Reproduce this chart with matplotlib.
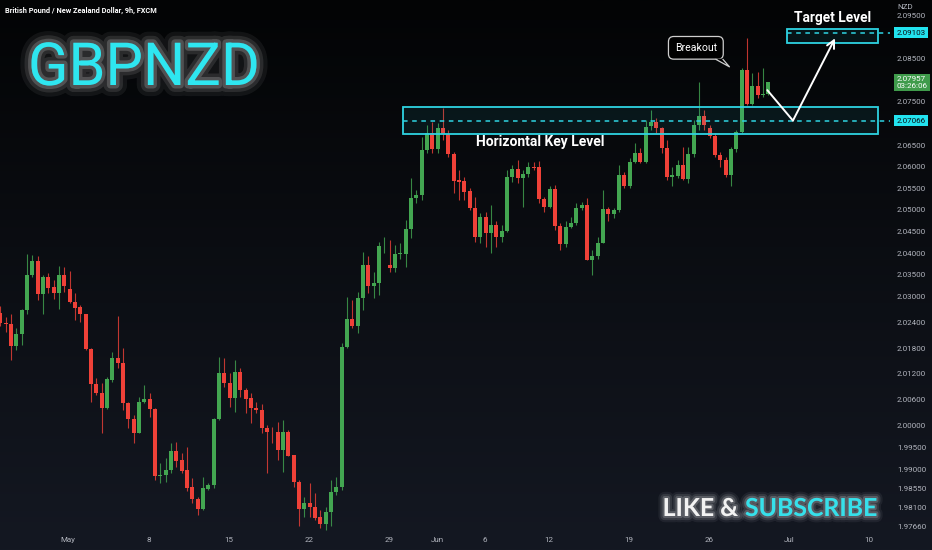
import numpy as np
import matplotlib
matplotlib.use("Agg")
import matplotlib.pyplot as plt
import matplotlib.patheffects as pe
from matplotlib.colors import LinearSegmentedColormap
from matplotlib.patches import Rectangle, Polygon
from matplotlib.transforms import blended_transform_factory

plt.rcParams['font.family'] = ['Roboto', 'DejaVu Sans']

# ---- GBPNZD 9h candles ----
opens = [2.0262, 2.0239, 2.0236, 2.0185, 2.0212, 2.0268, 2.0348, 2.0381, 2.0304, 2.0345,
         2.0321, 2.0308, 2.0348, 2.0316, 2.0287, 2.0274, 2.0259, 2.0177, 2.0097, 2.0075,
         2.0041, 2.0106, 2.0157, 2.0145, 2.0052, 2.0015, 1.9984, 2.0055, 2.0061, 2.0039,
         1.9884, 1.9886, 1.9898, 1.9941, 1.9921, 1.9898, 1.9858, 1.9831, 1.9807, 1.9854,
         1.9862, 2.0015, 2.0123, 2.0098, 2.0064, 2.0125, 2.0083, 2.0064, 2.0042, 2.0037,
         1.9996, 1.9986, 1.9985, 1.9944, 1.9985, 1.9932, 1.9871, 1.9807, 1.9821, 1.9813,
         1.9788, 1.9773, 1.9801, 1.9847, 1.9859, 2.0183, 2.0247, 2.0231, 2.0296, 2.0372,
         2.0324, 2.0330, 2.0418, 2.0372, 2.0365, 2.0397, 2.0398, 2.0455, 2.0527, 2.0534,
         2.0639, 2.0677, 2.0640, 2.0689, 2.0675, 2.0629, 2.0569, 2.0567, 2.0544, 2.0504,
         2.0438, 2.0484, 2.0447, 2.0465, 2.0438, 2.0452, 2.0575, 2.0595, 2.0573, 2.0583,
         2.0600, 2.0598, 2.0524, 2.0507, 2.0548, 2.0463, 2.0421, 2.0461, 2.0470, 2.0504,
         2.0511, 2.0385, 2.0393, 2.0424, 2.0501, 2.0490, 2.0500, 2.0581, 2.0555, 2.0611,
         2.0632, 2.0611, 2.0694, 2.0704, 2.0689, 2.0642, 2.0577, 2.0578, 2.0603, 2.0571,
         2.0629, 2.0696, 2.0717, 2.0689, 2.0671, 2.0627, 2.0615, 2.0581, 2.0640, 2.0679,
         2.0824, 2.0745, 2.0787, 2.0765, 2.0768]
highs = [2.0277, 2.0253, 2.0260, 2.0226, 2.0270, 2.0398, 2.0395, 2.0392, 2.0349, 2.0354,
         2.0337, 2.0370, 2.0368, 2.0359, 2.0307, 2.0280, 2.0260, 2.0179, 2.0110, 2.0098,
         2.0114, 2.0172, 2.0254, 2.0179, 2.0056, 2.0025, 2.0067, 2.0095, 2.0075, 2.0041,
         1.9913, 1.9925, 1.9960, 1.9963, 1.9936, 1.9952, 1.9879, 1.9836, 1.9882, 1.9867,
         2.0017, 2.0160, 2.0156, 2.0122, 2.0152, 2.0133, 2.0087, 2.0075, 2.0056, 2.0051,
         2.0002, 1.9998, 2.0010, 2.0013, 1.9990, 1.9933, 1.9875, 1.9836, 1.9867, 1.9845,
         1.9805, 1.9813, 1.9875, 1.9882, 2.0191, 2.0299, 2.0291, 2.0310, 2.0403, 2.0392,
         2.0356, 2.0426, 2.0438, 2.0430, 2.0419, 2.0423, 2.0476, 2.0573, 2.0546, 2.0669,
         2.0696, 2.0704, 2.0700, 2.0735, 2.0685, 2.0634, 2.0592, 2.0575, 2.0550, 2.0530,
         2.0492, 2.0496, 2.0511, 2.0473, 2.0465, 2.0592, 2.0604, 2.0615, 2.0592, 2.0611,
         2.0611, 2.0614, 2.0530, 2.0554, 2.0557, 2.0469, 2.0473, 2.0484, 2.0515, 2.0519,
         2.0527, 2.0407, 2.0438, 2.0546, 2.0507, 2.0504, 2.0604, 2.0588, 2.0619, 2.0654,
         2.0642, 2.0708, 2.0731, 2.0712, 2.0692, 2.0662, 2.0600, 2.0615, 2.0646, 2.0646,
         2.0708, 2.0797, 2.0731, 2.0696, 2.0677, 2.0634, 2.0623, 2.0646, 2.0685, 2.0828,
         2.0897, 2.0816, 2.0820, 2.0828, 2.0797]
lows = [2.0231, 2.0218, 2.0152, 2.0176, 2.0187, 2.0260, 2.0345, 2.0291, 2.0260, 2.0307,
        2.0293, 2.0270, 2.0310, 2.0284, 2.0245, 2.0241, 2.0176, 2.0054, 2.0071, 1.9984,
        2.0040, 2.0102, 2.0133, 2.0037, 1.9994, 1.9960, 1.9983, 2.0052, 2.0021, 1.9875,
        1.9867, 1.9871, 1.9890, 1.9905, 1.9890, 1.9848, 1.9821, 1.9794, 1.9805, 1.9851,
        1.9855, 2.0013, 2.0091, 2.0044, 2.0033, 2.0067, 2.0029, 2.0006, 2.0029, 1.9983,
        1.9891, 1.9960, 1.9921, 1.9894, 1.9929, 1.9859, 1.9767, 1.9790, 1.9790, 1.9782,
        1.9763, 1.9759, 1.9767, 1.9840, 1.9851, 2.0179, 2.0226, 2.0214, 2.0268, 2.0307,
        2.0295, 2.0303, 2.0399, 2.0356, 2.0356, 2.0386, 2.0368, 2.0434, 2.0515, 2.0523,
        2.0631, 2.0631, 2.0631, 2.0662, 2.0623, 2.0538, 2.0523, 2.0523, 2.0500, 2.0426,
        2.0423, 2.0415, 2.0399, 2.0415, 2.0426, 2.0449, 2.0565, 2.0561, 2.0507, 2.0577,
        2.0592, 2.0515, 2.0496, 2.0504, 2.0453, 2.0407, 2.0415, 2.0457, 2.0465, 2.0500,
        2.0384, 2.0349, 2.0386, 2.0423, 2.0473, 2.0480, 2.0496, 2.0550, 2.0550, 2.0608,
        2.0608, 2.0608, 2.0685, 2.0677, 2.0631, 2.0569, 2.0554, 2.0573, 2.0569, 2.0561,
        2.0623, 2.0685, 2.0685, 2.0666, 2.0623, 2.0600, 2.0577, 2.0554, 2.0634, 2.0677,
        2.0743, 2.0743, 2.0758, 2.0762, 2.0766]
closes = [2.0237, 2.0235, 2.0185, 2.0213, 2.0268, 2.0349, 2.0381, 2.0304, 2.0345, 2.0320,
          2.0308, 2.0348, 2.0324, 2.0287, 2.0273, 2.0258, 2.0177, 2.0097, 2.0075, 2.0041,
          2.0108, 2.0157, 2.0145, 2.0052, 2.0015, 1.9984, 2.0055, 2.0061, 2.0038, 1.9884,
          1.9886, 1.9898, 1.9941, 1.9919, 1.9896, 1.9856, 1.9830, 1.9807, 1.9856, 1.9862,
          2.0015, 2.0123, 2.0100, 2.0064, 2.0125, 2.0083, 2.0062, 2.0041, 2.0036, 1.9995,
          1.9985, 1.9985, 1.9944, 1.9985, 1.9931, 1.9871, 1.9807, 1.9821, 1.9811, 1.9787,
          1.9773, 1.9801, 1.9847, 1.9859, 2.0183, 2.0247, 2.0231, 2.0296, 2.0372, 2.0324,
          2.0330, 2.0417, 2.0419, 2.0365, 2.0398, 2.0401, 2.0455, 2.0527, 2.0534, 2.0639,
          2.0677, 2.0640, 2.0689, 2.0675, 2.0629, 2.0567, 2.0564, 2.0542, 2.0504, 2.0438,
          2.0484, 2.0447, 2.0465, 2.0438, 2.0452, 2.0575, 2.0595, 2.0573, 2.0583, 2.0600,
          2.0596, 2.0524, 2.0507, 2.0548, 2.0463, 2.0421, 2.0461, 2.0470, 2.0504, 2.0511,
          2.0385, 2.0393, 2.0424, 2.0501, 2.0490, 2.0500, 2.0581, 2.0555, 2.0611, 2.0632,
          2.0611, 2.0692, 2.0704, 2.0689, 2.0642, 2.0577, 2.0580, 2.0603, 2.0571, 2.0629,
          2.0696, 2.0717, 2.0696, 2.0671, 2.0627, 2.0615, 2.0581, 2.0640, 2.0679, 2.0824,
          2.0745, 2.0787, 2.0766, 2.0767, 2.07957]

# date axis (candle index where each date starts)
date_labels = ['May', '8', '15', '22', '29', 'Jun', '6', '12', '19', '26', 'Jul', '10']
date_idx = [12.7, 27.9, 42.9, 57.9, 72.9, 81.9, 90.9, 102.9, 117.9, 132.9, 147.9, 162.9]

price_ticks = [2.095, 2.085, 2.075, 2.065, 2.060, 2.055, 2.050, 2.045, 2.040, 2.035,
               2.030, 2.024, 2.018, 2.012, 2.006, 2.000, 1.995, 1.990, 1.9855, 1.981, 1.9766]

key_level = 2.07066
key_zone = (2.0676, 2.0738)
target_level = 2.09103
target_zone = (2.0886, 2.0918)
last_price = closes[-1]
# projected path: pullback to key level, then up to target
path_idx = [143.8, 148.6, 156.5]
path_px = [2.0777, key_level, 2.0897]

GREEN = '#43a651'
RED = '#ef4138'
CYAN = '#2ed3e2'
AXIS_TXT = '#b2b5be'

W, H = 932, 550
fig = plt.figure(figsize=(W / 100, H / 100), dpi=100)

# background gradient (black at top -> dark navy at bottom)
bg = fig.add_axes([0, 0, 1, 1], zorder=-5)
grad = np.linspace(1, 0, 256).reshape(-1, 1)
cmap = LinearSegmentedColormap.from_list('bg', ['#141822', '#030405'])
bg.imshow(grad, aspect='auto', cmap=cmap, extent=[0, 1, 0, 1])
bg.axis('off')

ax = fig.add_axes([0, 17 / H, 890 / W, 533 / H])
ax.patch.set_alpha(0)
for s in ax.spines.values():
    s.set_visible(False)

x = np.arange(len(opens))
o = np.array(opens)
c = np.array(closes)
colors = [GREEN if cc >= oo else RED for oo, cc in zip(o, c)]
ax.vlines(x, lows, highs, colors=colors, lw=0.8, alpha=0.8, zorder=3)
body = np.maximum(np.abs(c - o), 0.00012)
ax.bar(x, body, bottom=np.minimum(o, c), width=0.72, color=colors, lw=0, zorder=4)

ax.set_xlim(-0.06, 166.8)
ax.set_ylim(1.97519, 2.09857)

# key level zone
x_right = 164.6
ax.add_patch(Rectangle((75.5, key_zone[0]), x_right - 75.5, key_zone[1] - key_zone[0],
                       fc=(0.16, 0.8, 0.88, 0.08), ec=CYAN, lw=1.3, zorder=5))
ax.plot([75.5, 166.8], [key_level] * 2, color=CYAN, lw=1.1, ls=(0, (3, 3)), zorder=5)
ax.add_patch(Rectangle((147.5, target_zone[0]), x_right - 147.5, target_zone[1] - target_zone[0],
                       fc=(0.16, 0.8, 0.88, 0.08), ec=CYAN, lw=1.3, zorder=5))
ax.plot([147.5, 166.8], [target_level] * 2, color=CYAN, lw=1.1, ls=(0, (3, 3)), zorder=5)

# projected path arrow
ax.plot(path_idx[:2], path_px[:2], color='white', lw=1.4, zorder=6, solid_capstyle='round')
ax.annotate('', xy=(path_idx[2], path_px[2]), xytext=(path_idx[1], path_px[1]),
            arrowprops=dict(arrowstyle='->', color='white', lw=1.4, mutation_scale=14,
                            shrinkA=0, shrinkB=0), zorder=6)

# Breakout callout
ax.text(130.4, 2.0875, 'Breakout', color='white', fontsize=7.6, ha='center', va='center',
        zorder=8, bbox=dict(boxstyle='round,pad=0.6,rounding_size=0.5', fc='black',
                            ec='#cfcfcf', lw=0.9))
ax.add_patch(Polygon([(134.2, 2.0850), (135.5, 2.0850), (136.7, 2.0831)], closed=True,
                     fc='black', ec='none', zorder=9))
ax.plot([134.2, 136.7, 135.5], [2.0848, 2.0831, 2.0848], color='#cfcfcf', lw=0.9, zorder=9)

# axes ticks / labels
ax.set_xticks(date_idx)
ax.set_xticklabels(date_labels)
ax.tick_params(axis='x', length=0, pad=3, labelsize=5.8, colors=AXIS_TXT)
ax.yaxis.tick_right()
ax.set_yticks(price_ticks)
ax.set_yticklabels([f'{v:.5f}' for v in price_ticks])
ax.tick_params(axis='y', length=0, pad=5, labelsize=5.8, colors=AXIS_TXT)

bt = blended_transform_factory(ax.transAxes, ax.transData)
ax.text(1.0075, target_level, f'{target_level:.5f}', transform=bt, fontsize=5.8,
        color='#0b0e14', va='center', ha='left', zorder=10, clip_on=False,
        bbox=dict(boxstyle='square,pad=0.3', fc='#22e3ef', ec='none'))
ax.text(1.0075, key_level, f'{key_level:.5f}', transform=bt, fontsize=5.8,
        color='#0b0e14', va='center', ha='left', zorder=10, clip_on=False,
        bbox=dict(boxstyle='square,pad=0.3', fc='#22e3ef', ec='none'))
ax.text(1.0075, last_price - 0.0001, f'{last_price:.5f}\n03:26:06', transform=bt,
        fontsize=5.8, color='white', va='center', ha='left', linespacing=1.05, zorder=10,
        clip_on=False, bbox=dict(boxstyle='square,pad=0.3', fc='#3f9b4b', ec='none'))
fig.text(897 / W, 1 - 7 / H, 'NZD', fontsize=5.8, color=AXIS_TXT, va='center', ha='left')


def glow(color='white', widths=(16, 10, 5), alphas=(0.06, 0.1, 0.18)):
    eff = [pe.Stroke(linewidth=w, foreground=color, alpha=a) for w, a in zip(widths, alphas)]
    return eff + [pe.Normal()]


def fit_width(txt, target_px):
    r = fig.canvas.get_renderer()
    w = txt.get_window_extent(renderer=r).width
    txt.set_fontsize(txt.get_fontsize() * target_px / w)


info = fig.text(5 / W, 1 - 12.5 / H, 'British Pound / New Zealand Dollar, 9h, FXCM',
                fontsize=5.5, color='white', weight='bold', ha='left', va='baseline')
fit_width(info, 152)

title = fig.text(28 / W, 1 - 85 / H, 'GBPNZD', fontsize=44, color='#2ee6f0',
                 ha='left', va='baseline', path_effects=glow())
fit_width(title, 232)

hk = fig.text(540 / W, 1 - 146 / H, 'Horizontal Key Level', fontsize=9, color='white',
              weight='bold', ha='center', va='baseline', zorder=12)
fit_width(hk, 128)

tl = fig.text(833 / W, 1 - 22 / H, 'Target Level', fontsize=10, color='white',
              weight='bold', ha='center', va='baseline', zorder=12)
fit_width(tl, 77)

sub = fig.text(745 / W, 1 - 516 / H, 'SUBSCRIBE', fontsize=18, color='#36e0ea',
               family=['Lato', 'DejaVu Sans'], weight='bold', ha='left', va='baseline',
               path_effects=glow(widths=(9, 6, 3), alphas=(0.06, 0.1, 0.18)))
fit_width(sub, 132)
like = fig.text(738 / W, 1 - 516 / H, 'LIKE &', fontsize=sub.get_fontsize(), color='#f2f2f2',
                family=['Lato', 'DejaVu Sans'], weight='bold', ha='right', va='baseline',
                path_effects=glow(widths=(9, 6, 3), alphas=(0.06, 0.1, 0.18)))

fig.savefig('out.png', dpi=100)
